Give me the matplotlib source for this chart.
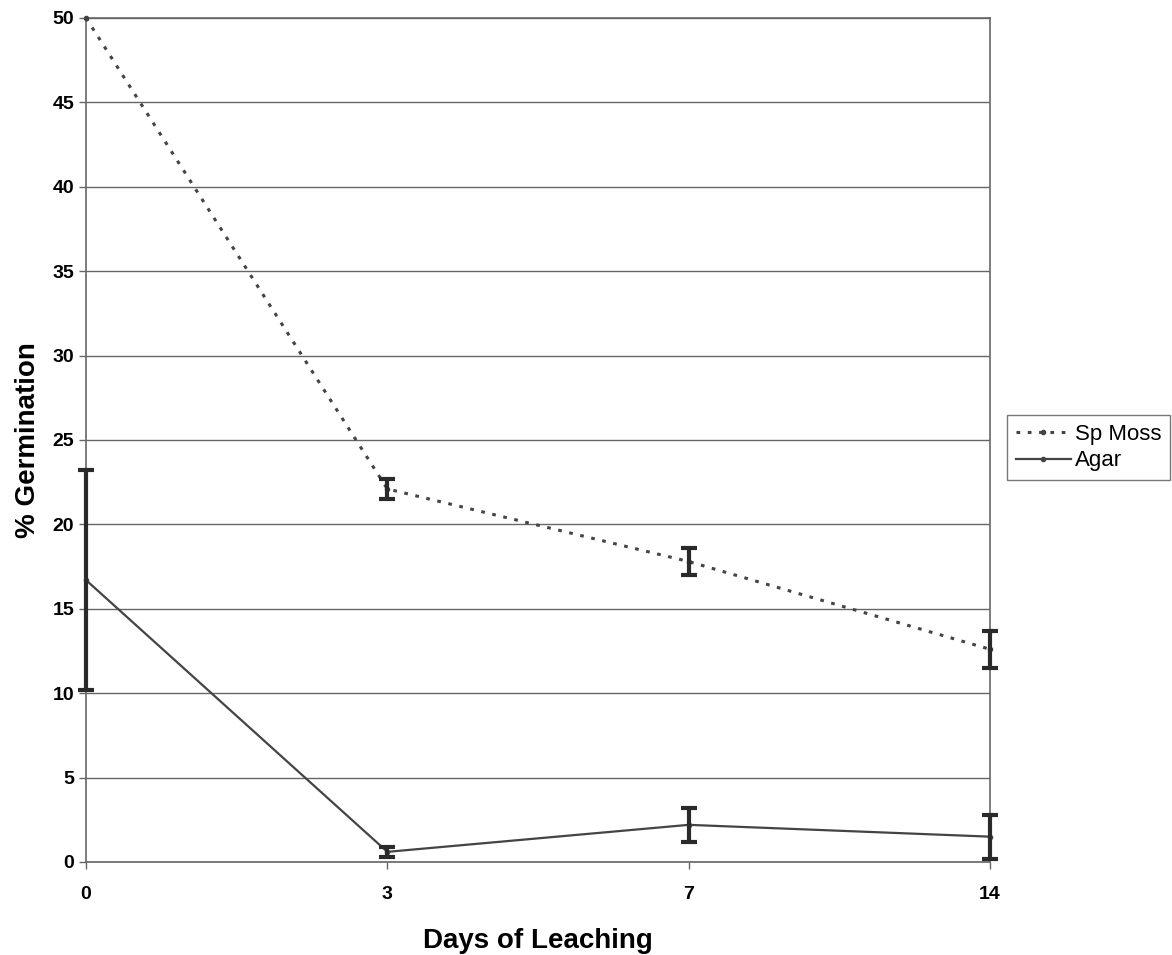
import matplotlib.pyplot as plt
import numpy as np

# data
dias = ['0', '3', '7', '14']
sp_moss = [50.0, 22.1, 17.8, 12.6]
sp_moss_err = [0.0, 0.6, 0.8, 1.1]
agar = [16.7, 0.6, 2.2, 1.5]
agar_err = [6.5, 0.3, 1.0, 1.3]

plt.rcParams['font.family'] = ['Liberation Sans', 'DejaVu Sans']

fig = plt.figure(figsize=(11.72, 9.55), dpi=100)
ax = fig.add_axes([0.0734, 0.0974, 0.7713, 0.8838])

x = np.arange(len(dias))

l1, = ax.plot(x, sp_moss, color='#444444', linestyle=(0, (1.2, 2.5)), linewidth=2.2,
              marker='o', markersize=3, label='Sp Moss', zorder=3, clip_on=False)
# no visible bar on the first Sp Moss point
eb1 = ax.errorbar(x, sp_moss, yerr=sp_moss_err, fmt='none', ecolor='#2a2a2a',
                  elinewidth=3, capsize=6, capthick=3, zorder=4, errorevery=(1, 1))

l2, = ax.plot(x, agar, color='#444444', linestyle='-', linewidth=1.6,
              marker='o', markersize=3, label='Agar', zorder=3, clip_on=False)
eb2 = ax.errorbar(x, agar, yerr=agar_err, fmt='none', ecolor='#2a2a2a',
                  elinewidth=3, capsize=6, capthick=3, zorder=4)

# keep the bars at the first and last category visible
for eb in (eb1, eb2):
    for art in eb.lines[1] + eb.lines[2]:
        art.set_clip_on(False)

ax.set_xlim(0, 3)
ax.set_ylim(0, 50)
ax.set_xticks(x)
ax.set_xticklabels(dias)
ax.set_yticks(np.arange(0, 51, 5))
ax.yaxis.grid(True, color='#666666', linewidth=1)
ax.set_axisbelow(True)

for s in ax.spines.values():
    s.set_color('#666666')
    s.set_linewidth(1.2)

ax.tick_params(axis='both', labelsize=14, color='#666666', length=5, width=1)
for lab in ax.get_xticklabels() + ax.get_yticklabels():
    lab.set_fontweight('bold')
ax.tick_params(axis='x', pad=12)

ax.set_xlabel('Days of Leaching', fontsize=20, fontweight='bold', labelpad=18)
ax.set_ylabel('% Germination', fontsize=20, fontweight='bold', labelpad=8)

leg = fig.legend(handles=[l1, l2], loc='upper left', bbox_to_anchor=(0.859, 0.5654),
                 borderaxespad=0, fontsize=16, frameon=True, fancybox=False,
                 handlelength=2.5, handletextpad=0.15, borderpad=0.4,
                 labelspacing=0.25)
leg.get_frame().set_edgecolor('#555555')
leg.get_frame().set_linewidth(1)

fig.savefig('out.png', dpi=100)
